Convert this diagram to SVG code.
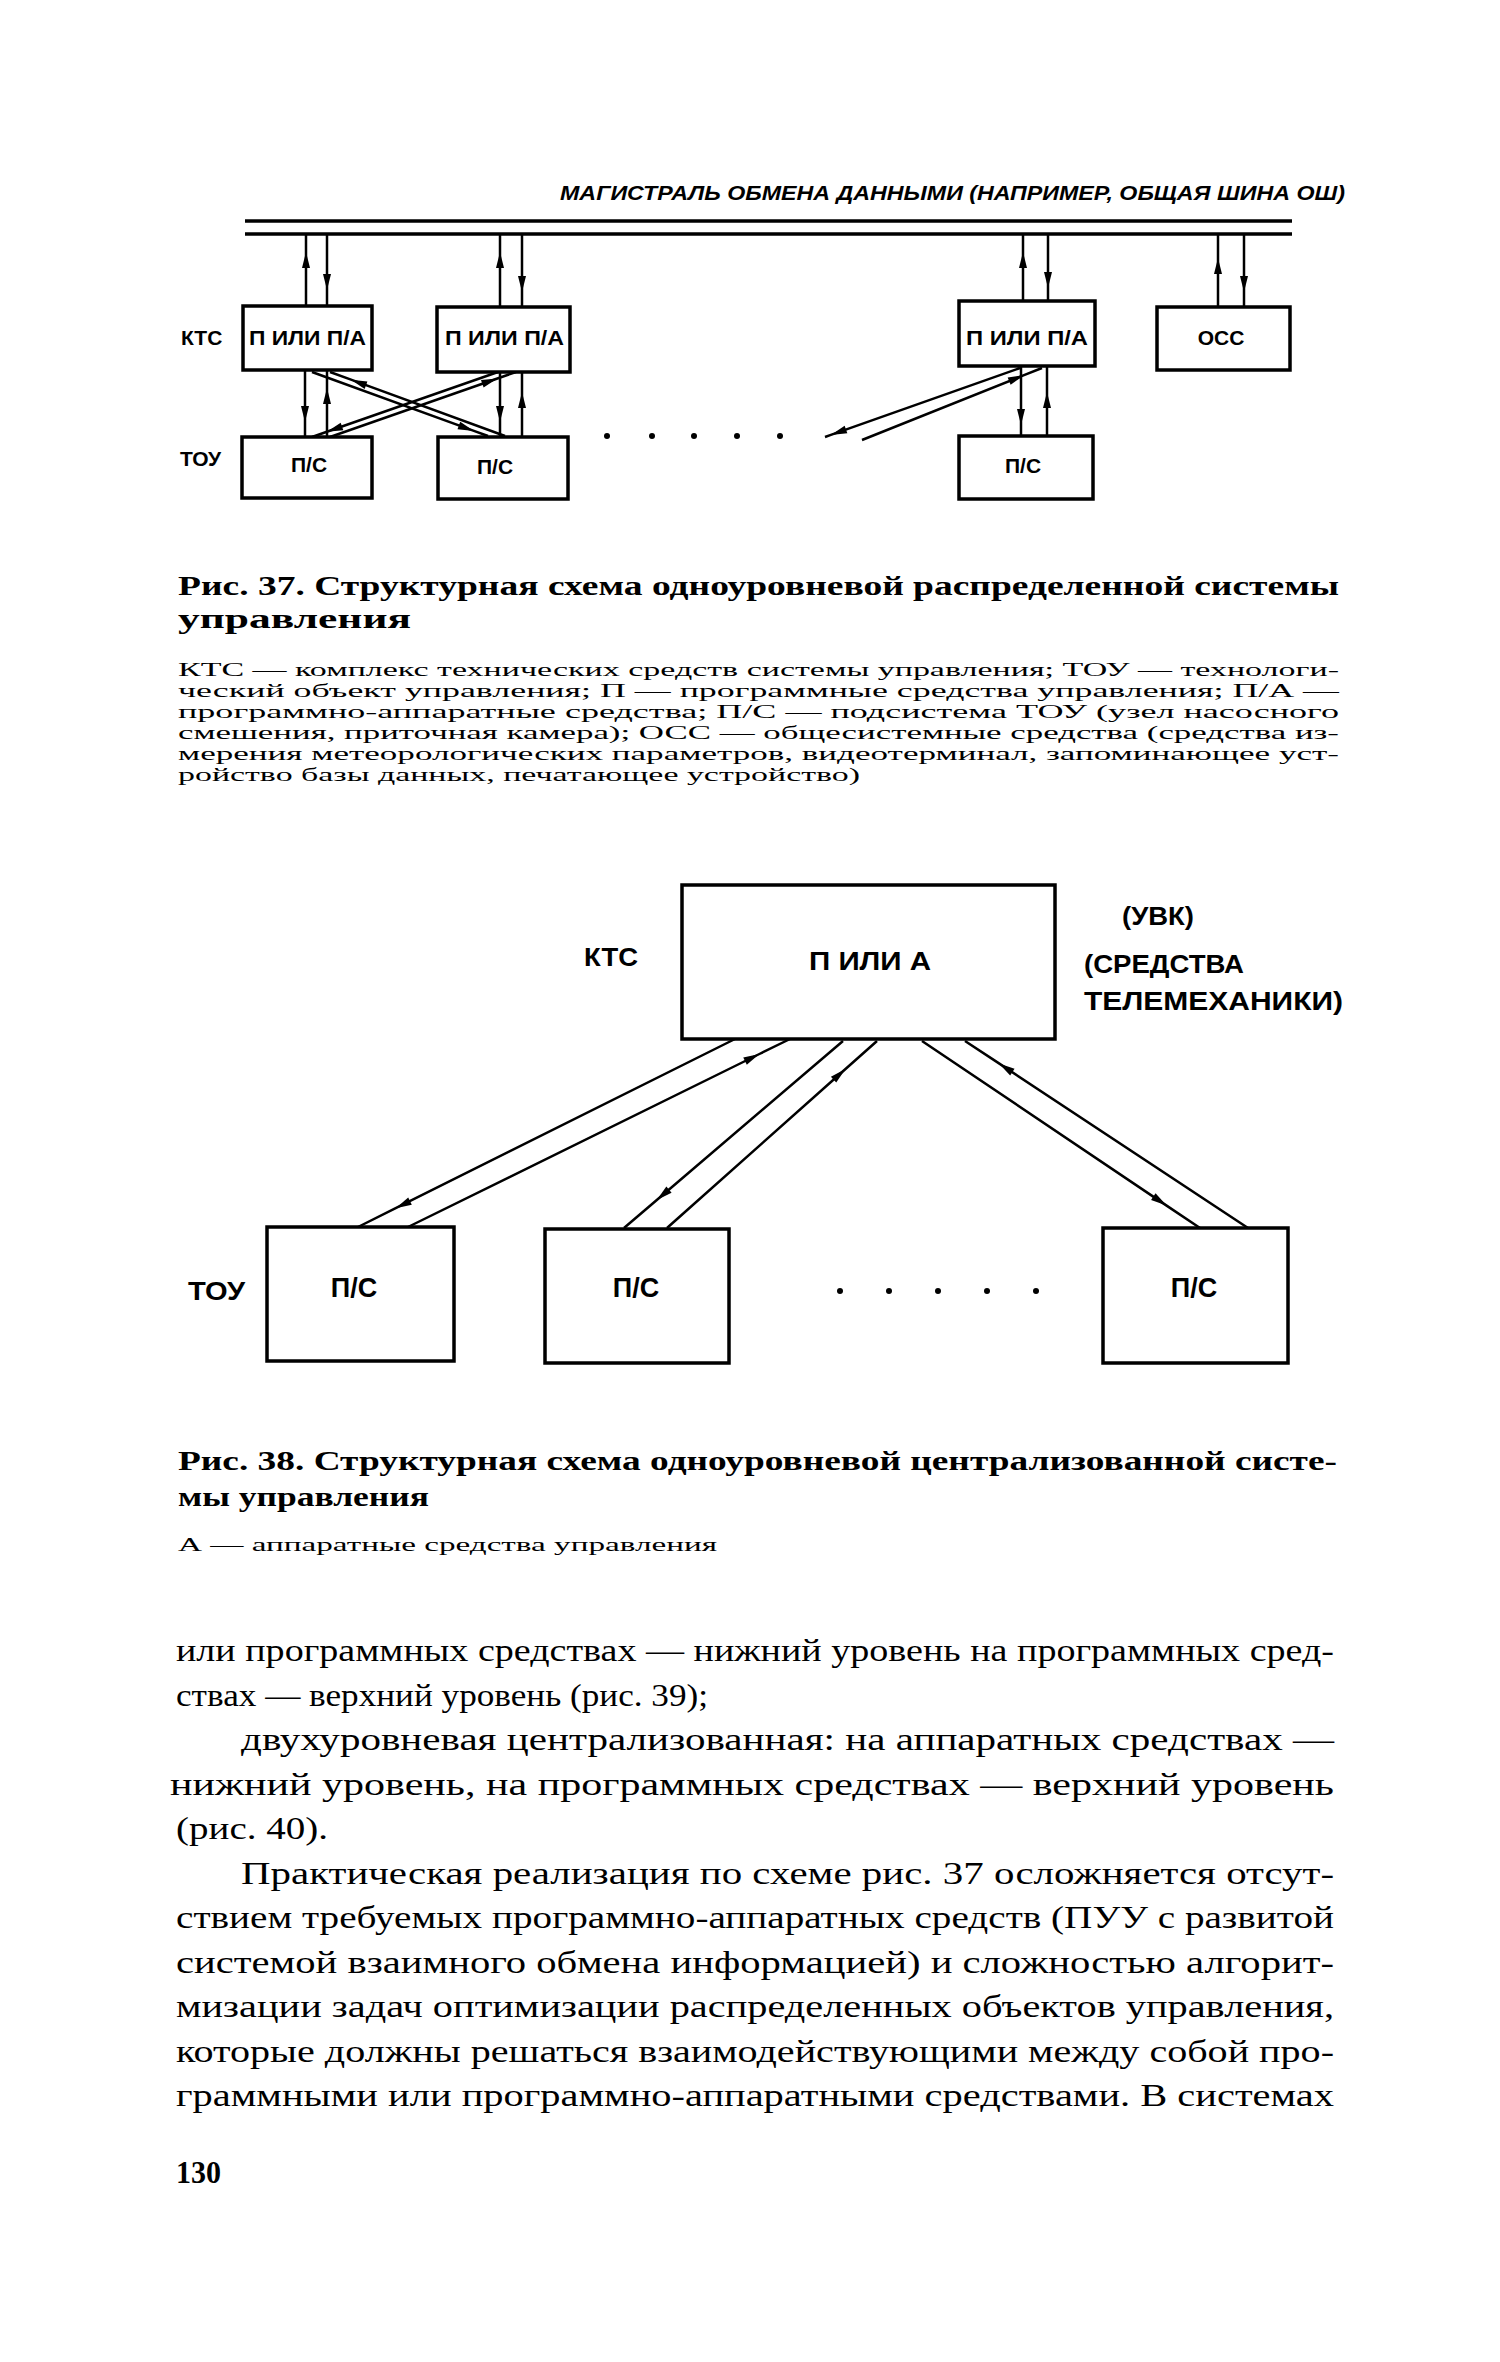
<svg xmlns="http://www.w3.org/2000/svg" width="1500" height="2362" viewBox="0 0 1500 2362">
<defs>
<marker id="ah" viewBox="-17 -5 18 10" refX="0" refY="0" markerWidth="18" markerHeight="10" markerUnits="userSpaceOnUse" orient="auto">
<path d="M0,0 L-16,-4 L-16,4 Z" fill="#000"/>
</marker>
</defs>
<style>
.box{fill:#fff;stroke:#000;stroke-width:3.5}
.bus{fill:none;stroke:#000;stroke-width:3.5}
.ln{fill:none;stroke:#000;stroke-width:2.5;marker-mid:url(#ah)}
.lbl{font-family:"Liberation Sans",Arial,sans-serif;font-weight:bold;fill:#000}
.cap{font-family:"Liberation Serif","Times New Roman",serif;font-weight:bold;fill:#000;font-size:28px}
.leg{font-family:"Liberation Serif","Times New Roman",serif;fill:#000;font-size:18px}
.body{font-family:"Liberation Serif","Times New Roman",serif;fill:#000;font-size:32px}
.dot{fill:#000}
</style>
<rect width="1500" height="2362" fill="#fff"/>

<!-- Figure 37 -->
<text class="lbl" x="560" y="200" font-size="20" font-style="italic" textLength="785" lengthAdjust="spacingAndGlyphs">МАГИСТРАЛЬ ОБМЕНА ДАННЫМИ (НАПРИМЕР, ОБЩАЯ ШИНА ОШ)</text>
<g id="bus">
<line class="bus" x1="245" y1="221" x2="1292" y2="221"/>
<line class="bus" x1="245" y1="234" x2="1292" y2="234"/>
</g>
<text class="lbl" x="181" y="345" font-size="21">КТС</text>
<text class="lbl" x="180" y="466" font-size="21">ТОУ</text>

<g id="connectors37">
<path class="ln" d="M306,307 L306,252 L306,234"/>
<path class="ln" d="M327,234 L327,290 L327,307"/>
<path class="ln" d="M500,307 L500,252 L500,234"/>
<path class="ln" d="M522,234 L522,292 L522,307"/>
<path class="ln" d="M1023,301 L1023,252 L1023,234"/>
<path class="ln" d="M1048,234 L1048,288 L1048,301"/>
<path class="ln" d="M1218,307 L1218,258 L1218,234"/>
<path class="ln" d="M1244,234 L1244,292 L1244,307"/>
<path class="ln" d="M305,370 L305,422 L305,437"/>
<path class="ln" d="M327,437 L327,388 L327,370"/>
<path class="ln" d="M500,372 L500,422 L500,437"/>
<path class="ln" d="M522,437 L522,392 L522,372"/>
<path class="ln" d="M1021,366 L1021,425 L1021,435"/>
<path class="ln" d="M1047,435 L1047,392 L1047,366"/>
<path class="ln" d="M312,372 L473.9,430.9 L488,436"/>
<path class="ln" d="M505,436 L351,379.7 L330,372"/>
<path class="ln" d="M498,372 L326.9,431.8 L312,437"/>
<path class="ln" d="M330,437 L497.4,378.5 L516,372"/>
<path class="ln" d="M1020,368 L830.9,434.9 L825,437"/>
<path class="ln" d="M862,440 L1024,375.2 L1042,368"/>
</g>

<g id="n37-p1">
<rect class="box" x="243" y="306" width="129" height="64"/>
<text class="lbl" x="249" y="345" font-size="21" textLength="117" lengthAdjust="spacingAndGlyphs">П ИЛИ П/А</text>
</g>
<g id="n37-p2">
<rect class="box" x="437" y="307" width="133" height="65"/>
<text class="lbl" x="445" y="345" font-size="21" textLength="119" lengthAdjust="spacingAndGlyphs">П ИЛИ П/А</text>
</g>
<g id="n37-p3">
<rect class="box" x="959" y="301" width="136" height="65"/>
<text class="lbl" x="966" y="345" font-size="21" textLength="122" lengthAdjust="spacingAndGlyphs">П ИЛИ П/А</text>
</g>
<g id="n37-occ">
<rect class="box" x="1157" y="307" width="133" height="63"/>
<text class="lbl" x="1221" y="345" font-size="21" text-anchor="middle">ОСС</text>
</g>
<g id="n37-ps1">
<rect class="box" x="242" y="437" width="130" height="61"/>
<text class="lbl" x="309" y="472" font-size="21" text-anchor="middle">П/С</text>
</g>
<g id="n37-ps2">
<rect class="box" x="438" y="437" width="130" height="62"/>
<text class="lbl" x="495" y="474" font-size="21" text-anchor="middle">П/С</text>
</g>
<g id="n37-ps3">
<rect class="box" x="959" y="436" width="134" height="63"/>
<text class="lbl" x="1023" y="473" font-size="21" text-anchor="middle">П/С</text>
</g>
<g id="dots37">
<circle class="dot" cx="607" cy="436" r="3"/>
<circle class="dot" cx="652" cy="436" r="3"/>
<circle class="dot" cx="694" cy="436" r="3"/>
<circle class="dot" cx="737" cy="436" r="3"/>
<circle class="dot" cx="780" cy="436" r="3"/>
</g>

<text class="cap" x="178" y="595" textLength="1161" lengthAdjust="spacingAndGlyphs">Рис. 37. Структурная схема одноуровневой распределенной системы</text>
<text class="cap" x="178" y="628" textLength="233" lengthAdjust="spacingAndGlyphs">управления</text>

<text class="leg" x="178" y="676" textLength="1161" lengthAdjust="spacingAndGlyphs">КТС — комплекс технических средств системы управления; ТОУ — технологи-</text>
<text class="leg" x="178" y="697" textLength="1161" lengthAdjust="spacingAndGlyphs">ческий объект управления; П — программные средства управления; П/А —</text>
<text class="leg" x="178" y="718" textLength="1161" lengthAdjust="spacingAndGlyphs">программно-аппаратные средства; П/С — подсистема ТОУ (узел насосного</text>
<text class="leg" x="178" y="739" textLength="1161" lengthAdjust="spacingAndGlyphs">смешения, приточная камера); ОСС — общесистемные средства (средства из-</text>
<text class="leg" x="178" y="760" textLength="1161" lengthAdjust="spacingAndGlyphs">мерения метеорологических параметров, видеотерминал, запоминающее уст-</text>
<text class="leg" x="178" y="781" textLength="682" lengthAdjust="spacingAndGlyphs">ройство базы данных, печатающее устройство)</text>

<!-- Figure 38 -->
<text class="lbl" x="584" y="966" font-size="26" textLength="54" lengthAdjust="spacingAndGlyphs">КТС</text>
<text class="lbl" x="1122" y="925" font-size="25" textLength="72" lengthAdjust="spacingAndGlyphs">(УВК)</text>
<text class="lbl" x="1084" y="973" font-size="25" textLength="160" lengthAdjust="spacingAndGlyphs">(СРЕДСТВА</text>
<text class="lbl" x="1084" y="1010" font-size="25" textLength="259" lengthAdjust="spacingAndGlyphs">ТЕЛЕМЕХАНИКИ)</text>
<text class="lbl" x="188" y="1300" font-size="26" textLength="57" lengthAdjust="spacingAndGlyphs">ТОУ</text>

<g id="connectors38">
<path class="ln" d="M735,1039 L395.7,1208.2 L358,1227"/>
<path class="ln" d="M408,1227 L759.4,1054 L790,1039"/>
<path class="ln" d="M843,1041 L656.8,1200 L624,1228"/>
<path class="ln" d="M667,1228 L845.5,1069 L877,1041"/>
<path class="ln" d="M922,1041 L1166.6,1205.6 L1200,1228"/>
<path class="ln" d="M1248,1228 L999,1063.4 L965,1041"/>
</g>

<g id="n38-main">
<rect class="box" x="682" y="885" width="373" height="154"/>
<text class="lbl" x="809" y="970" font-size="26" textLength="122" lengthAdjust="spacingAndGlyphs">П ИЛИ А</text>
</g>
<g id="n38-ps1">
<rect class="box" x="267" y="1227" width="187" height="134"/>
<text class="lbl" x="354" y="1297" font-size="27" text-anchor="middle">П/С</text>
</g>
<g id="n38-ps2">
<rect class="box" x="545" y="1229" width="184" height="134"/>
<text class="lbl" x="636" y="1297" font-size="27" text-anchor="middle">П/С</text>
</g>
<g id="n38-ps3">
<rect class="box" x="1103" y="1228" width="185" height="135"/>
<text class="lbl" x="1194" y="1297" font-size="27" text-anchor="middle">П/С</text>
</g>
<g id="dots38">
<circle class="dot" cx="840" cy="1291" r="3"/>
<circle class="dot" cx="889" cy="1291" r="3"/>
<circle class="dot" cx="938" cy="1291" r="3"/>
<circle class="dot" cx="987" cy="1291" r="3"/>
<circle class="dot" cx="1036" cy="1291" r="3"/>
</g>

<text class="cap" x="178" y="1470" textLength="1159" lengthAdjust="spacingAndGlyphs">Рис. 38. Структурная схема одноуровневой централизованной систе-</text>
<text class="cap" x="178" y="1506" textLength="251" lengthAdjust="spacingAndGlyphs">мы управления</text>
<text class="leg" x="178" y="1551" font-size="20" textLength="539" lengthAdjust="spacingAndGlyphs">А — аппаратные средства управления</text>

<!-- Body text -->
<text class="body" x="176" y="1661" textLength="1158" lengthAdjust="spacingAndGlyphs">или программных средствах — нижний уровень на программных сред-</text>
<text class="body" x="176" y="1706" textLength="532" lengthAdjust="spacingAndGlyphs">ствах — верхний уровень (рис. 39);</text>
<text class="body" x="241" y="1750" textLength="1093" lengthAdjust="spacingAndGlyphs">двухуровневая  централизованная: на аппаратных средствах —</text>
<text class="body" x="170" y="1795" textLength="1164" lengthAdjust="spacingAndGlyphs">нижний  уровень,  на  программных  средствах — верхний  уровень</text>
<text class="body" x="176" y="1839" textLength="152" lengthAdjust="spacingAndGlyphs">(рис. 40).</text>
<text class="body" x="241" y="1884" textLength="1093" lengthAdjust="spacingAndGlyphs">Практическая реализация по схеме рис. 37 осложняется отсут-</text>
<text class="body" x="176" y="1928" textLength="1158" lengthAdjust="spacingAndGlyphs">ствием требуемых программно-аппаратных средств (ПУУ с развитой</text>
<text class="body" x="176" y="1973" textLength="1158" lengthAdjust="spacingAndGlyphs">системой взаимного обмена информацией) и сложностью алгорит-</text>
<text class="body" x="176" y="2017" textLength="1158" lengthAdjust="spacingAndGlyphs">мизации задач оптимизации распределенных объектов управления,</text>
<text class="body" x="176" y="2062" textLength="1158" lengthAdjust="spacingAndGlyphs">которые должны решаться взаимодействующими между собой про-</text>
<text class="body" x="176" y="2106" textLength="1158" lengthAdjust="spacingAndGlyphs">граммными или программно-аппаратными средствами. В системах</text>
<text class="body" x="176" y="2183" font-weight="bold" textLength="45" lengthAdjust="spacingAndGlyphs">130</text>
</svg>
